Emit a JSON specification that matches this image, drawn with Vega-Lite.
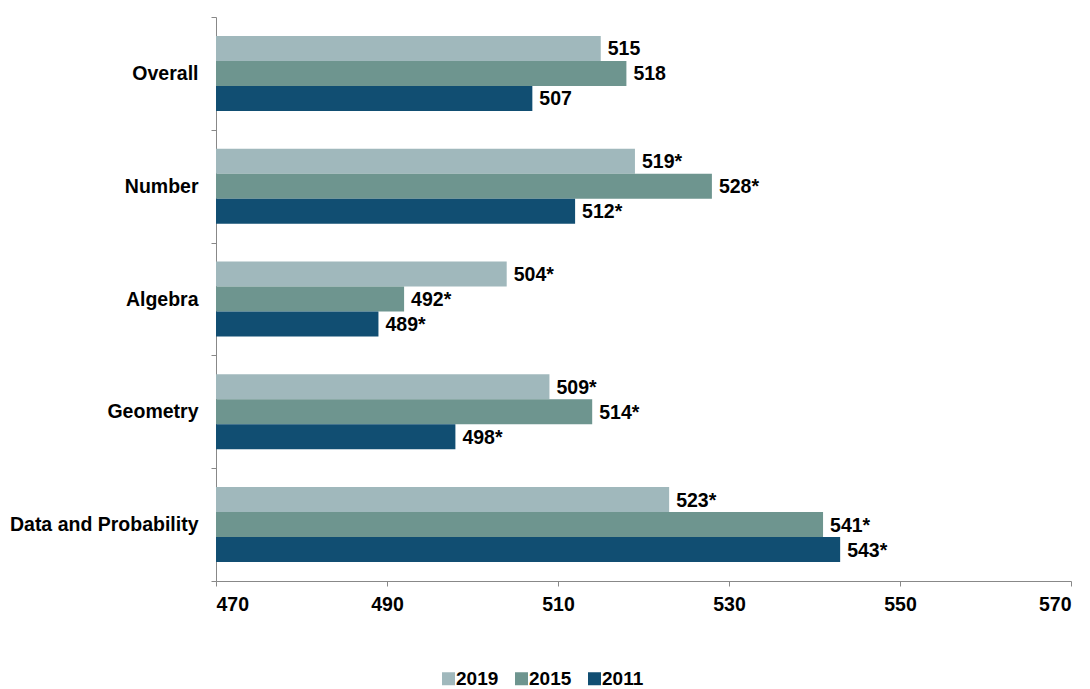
{
  "$schema": "https://vega.github.io/schema/vega-lite/v6.json",
  "width": 855,
  "height": 564,
  "autosize": {"type": "none"},
  "padding": {"left": 216, "top": 17, "right": 19, "bottom": 108},
  "background": "white",
  "config": {
    "view": {"stroke": null},
    "font": "Liberation Sans"
  },
  "data": {
    "values": [
      {"category": "Overall", "year": "2019", "score": 515, "label": "515"},
      {"category": "Overall", "year": "2015", "score": 518, "label": "518"},
      {"category": "Overall", "year": "2011", "score": 507, "label": "507"},
      {"category": "Number", "year": "2019", "score": 519, "label": "519*"},
      {"category": "Number", "year": "2015", "score": 528, "label": "528*"},
      {"category": "Number", "year": "2011", "score": 512, "label": "512*"},
      {"category": "Algebra", "year": "2019", "score": 504, "label": "504*"},
      {"category": "Algebra", "year": "2015", "score": 492, "label": "492*"},
      {"category": "Algebra", "year": "2011", "score": 489, "label": "489*"},
      {"category": "Geometry", "year": "2019", "score": 509, "label": "509*"},
      {"category": "Geometry", "year": "2015", "score": 514, "label": "514*"},
      {"category": "Geometry", "year": "2011", "score": 498, "label": "498*"},
      {"category": "Data and Probability", "year": "2019", "score": 523, "label": "523*"},
      {"category": "Data and Probability", "year": "2015", "score": 541, "label": "541*"},
      {"category": "Data and Probability", "year": "2011", "score": 543, "label": "543*"}
    ]
  },
  "encoding": {
    "y": {
      "field": "category",
      "type": "nominal",
      "sort": ["Overall", "Number", "Algebra", "Geometry", "Data and Probability"],
      "scale": {"paddingInner": 0, "paddingOuter": 0},
      "axis": {
        "title": null,
        "tickBand": "extent",
        "domainColor": "#888888",
        "tickColor": "#888888",
        "tickSize": 5,
        "labelFontSize": 19.5,
        "labelFontWeight": "bold",
        "labelColor": "#000000",
        "labelPadding": 13,
        "labelLimit": 0
      }
    },
    "yOffset": {
      "field": "year",
      "type": "nominal",
      "sort": ["2019", "2015", "2011"],
      "scale": {"paddingInner": 0, "paddingOuter": 0.756}
    }
  },
  "layer": [
    {
      "mark": {"type": "bar", "clip": true},
      "encoding": {
        "x": {
          "field": "score",
          "type": "quantitative",
          "scale": {"domain": [470, 570], "zero": false, "nice": false},
          "axis": {
            "title": null,
            "values": [470, 490, 510, 530, 550, 570],
            "grid": false,
            "domainColor": "#888888",
            "tickColor": "#888888",
            "tickSize": 5,
            "labelFontSize": 19.5,
            "labelFontWeight": "bold",
            "labelColor": "#000000",
            "labelPadding": 9
          }
        },
        "x2": {"datum": 470},
        "color": {
          "field": "year",
          "type": "nominal",
          "scale": {"domain": ["2019", "2015", "2011"], "range": ["#a0b8bc", "#6e958f", "#114e72"]},
          "legend": {
            "title": null,
            "orient": "none",
            "direction": "horizontal",
            "legendX": 223,
            "legendY": 652,
            "symbolType": "square",
            "symbolSize": 169,
            "symbolStrokeWidth": 0,
            "labelFontSize": 19,
            "labelFontWeight": "bold",
            "labelColor": "#000000",
            "labelOffset": -2,
            "columnPadding": 13
          }
        }
      }
    },
    {
      "mark": {"type": "text", "align": "left", "baseline": "middle", "dx": 7, "dy": 1, "fontSize": 19.5, "fontWeight": "bold", "color": "#000000"},
      "encoding": {
        "x": {"field": "score", "type": "quantitative"},
        "text": {"field": "label"}
      }
    }
  ]
}
